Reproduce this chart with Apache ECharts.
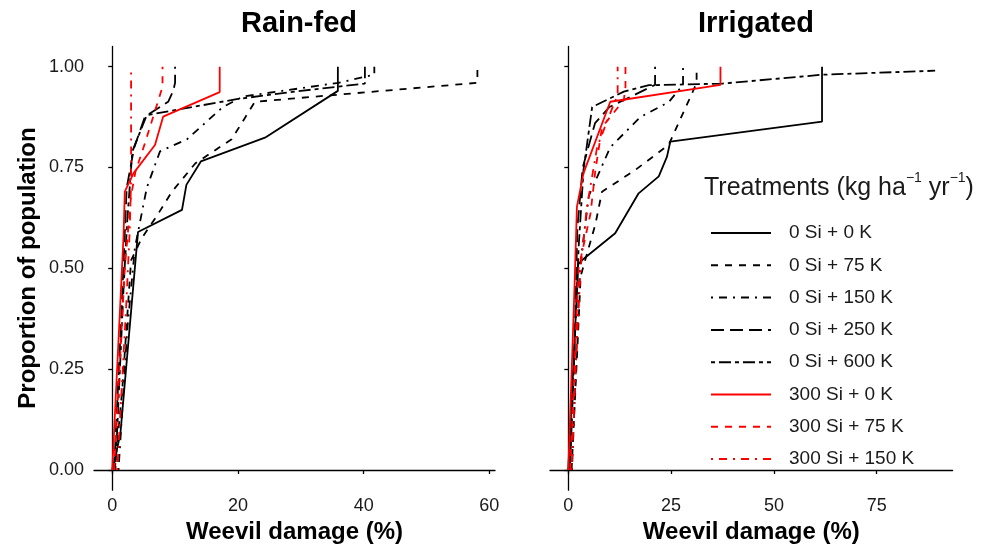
<!DOCTYPE html>
<html>
<head>
<meta charset="utf-8">
<script src="https://cdn.jsdelivr.net/npm/echarts@6/dist/echarts.min.js"></script>
<style>
  html, body { margin: 0; padding: 0; background: #fff; }
  #chart { width: 990px; height: 550px; }
</style>
</head>
<body>
<div id="chart"></div>
<script>
// treatment names (legend order)
const treatments = ['0 Si + 0 K', '0 Si + 75 K', '0 Si + 150 K', '0 Si + 250 K',
                    '0 Si + 600 K', '300 Si + 0 K', '300 Si + 75 K', '300 Si + 150 K'];

// Rain-fed: [weevil damage %, cumulative proportion]
const rain0K   = [[0,0],[1.3,0.09],[4.1,0.59],[11.1,0.645],[11.8,0.707],[14.1,0.765],[24.3,0.824],[35.9,0.94],[35.9,1]];
const rain75K  = [[0.4,0],[1.6,0.2],[3.0,0.52],[4.7,0.575],[7.1,0.63],[9.5,0.69],[13.2,0.76],[19,0.82],[22.7,0.913],[58.1,0.96],[58.1,1]];
const rain150K = [[1,0],[2.4,0.35],[3.6,0.55],[5.5,0.7],[7.6,0.79],[11.9,0.82],[17.6,0.9],[20.8,0.926],[36,0.96],[41.7,0.98],[41.7,1]];
const rain250K = [[0.3,0],[1.5,0.4],[2.3,0.7],[3.5,0.8],[5.2,0.876],[8.9,0.913],[9.7,0.94],[10,0.96],[10,1]];
const rain600K = [[0.5,0],[1.8,0.45],[2.4,0.62],[3.2,0.79],[5.5,0.88],[20,0.92],[30,0.94],[40.2,0.958],[40.2,1]];
const rainSi0K   = [[0,0],[1.8,0.58],[2.0,0.69],[3.4,0.736],[6.8,0.806],[8.1,0.876],[17.1,0.937],[17.1,1]];
const rainSi75K  = [[0.3,0],[2.0,0.5],[3.0,0.68],[3.7,0.74],[5.2,0.81],[6.8,0.89],[8.0,0.95],[8.0,1]];
const rainSi150K = [[0.8,0],[2.2,0.4],[2.8,0.6],[3.0,0.72],[3.0,1]];

// Irrigated
const irr0K   = [[0,0],[1.2,0.25],[2.4,0.51],[3.3,0.52],[11.4,0.587],[17.1,0.686],[22,0.728],[24,0.777],[24.8,0.814],[61.7,0.864],[61.7,1]];
const irr75K  = [[0.8,0],[2.2,0.3],[3.0,0.48],[4.1,0.52],[6.6,0.61],[8.2,0.69],[16.3,0.744],[24.4,0.806],[30.1,0.934],[31.2,0.96],[31.2,1]];
const irr150K = [[0.9,0],[2.0,0.3],[2.8,0.5],[5,0.68],[10.2,0.8],[17.5,0.875],[24.4,0.912],[27.9,0.955],[27.9,1]];
const irr250K = [[0.4,0],[1.5,0.3],[2.2,0.6],[3.5,0.75],[6.5,0.86],[10,0.9],[21.1,0.955],[21.1,1]];
const irr600K = [[0.3,0],[1.5,0.3],[2.5,0.55],[3.7,0.744],[5.8,0.9],[13.5,0.938],[19.6,0.954],[37.4,0.958],[61.7,0.98],[89.2,0.99]];
const irrSi0K   = [[0,0],[1.5,0.45],[2.1,0.653],[3.7,0.736],[10.2,0.913],[37,0.955],[37,1]];
const irrSi75K  = [[0.5,0],[2.5,0.5],[5.4,0.636],[6.6,0.744],[8.2,0.85],[13.5,0.917],[13.9,0.95],[13.9,1]];
const irrSi150K = [[0.8,0],[2,0.3],[3,0.5],[4.5,0.65],[7,0.8],[10,0.88],[12,0.93],[12,1]];

const xTicksRain = [0, 20, 40, 60];
const xTicksIrr = [0, 25, 50, 75];
const yTicks = [0, 0.25, 0.5, 0.75, 1];

const colors = ['#000', '#000', '#000', '#000', '#000', '#ff0000', '#ff0000', '#ff0000'];
const dashes = ['solid', [7, 7], [2, 6, 8, 6], [13, 6], [4, 4, 12, 4], 'solid', [7, 7], [2, 6, 8, 6]];

const rainData = [rain0K, rain75K, rain150K, rain250K, rain600K, rainSi0K, rainSi75K, rainSi150K];
const irrData = [irr0K, irr75K, irr150K, irr250K, irr600K, irrSi0K, irrSi75K, irrSi150K];

const chart = echarts.init(document.getElementById('chart'));

const FONT = 'Liberation Sans, Arial, sans-serif';
const axisText = { color: '#1a1a1a', fontSize: 18, fontFamily: FONT };
const axisLine = { show: true, lineStyle: { color: '#000', width: 1.3 } };
const axisTick = { show: true, length: 4, lineStyle: { color: '#000', width: 1.3 } };
const nameStyle = { color: '#000', fontSize: 24, fontWeight: 'bold', fontFamily: FONT };

function xAxisFor(idx, min, max, ticks) {
  return {
    type: 'value', gridIndex: idx, min: min, max: max,
    name: 'Weevil damage (%)', nameLocation: 'middle', nameGap: 28, nameTextStyle: nameStyle,
    axisLine: axisLine,
    axisTick: Object.assign({ customValues: ticks }, axisTick),
    axisLabel: Object.assign({ customValues: ticks, margin: 7 }, axisText),
    splitLine: { show: false }
  };
}
function yAxisFor(idx, showLabel) {
  return {
    type: 'value', gridIndex: idx, min: -0.05, max: 1.05,
    axisLine: axisLine,
    axisTick: Object.assign({ customValues: yTicks }, axisTick),
    axisLabel: Object.assign({ show: showLabel, customValues: yTicks, margin: 10,
      formatter: v => v.toFixed(2) }, axisText),
    splitLine: { show: false }
  };
}

const series = [];
[rainData, irrData].forEach((set, p) => {
  set.forEach((d, i) => {
    series.push({
      name: treatments[i], type: 'line', xAxisIndex: p, yAxisIndex: p,
      data: d, symbol: 'none', showSymbol: false, animation: false,
      lineStyle: { color: colors[i], width: 1.8, type: dashes[i] },
      itemStyle: { color: colors[i] }
    });
  });
});

chart.setOption({
  backgroundColor: '#fff',
  animation: false,
  title: [
    { text: 'Rain-fed', left: 294, top: 4, textAlign: 'center',
      textStyle: { fontSize: 29, fontWeight: 'bold', color: '#000', fontFamily: FONT } },
    { text: 'Irrigated', left: 751, top: 4, textAlign: 'center',
      textStyle: { fontSize: 29, fontWeight: 'bold', color: '#000', fontFamily: FONT } }
  ],
  grid: [
    { left: 94, top: 46.5, width: 401, height: 443.7 },
    { left: 550, top: 46.5, width: 402.6, height: 443.7 }
  ],
  xAxis: [xAxisFor(0, -2.9, 60.9, xTicksRain), xAxisFor(1, -4.45, 93.45, xTicksIrr)],
  yAxis: [yAxisFor(0, true), yAxisFor(1, false)],
  legend: {
    orient: 'vertical', left: 705, top: 218.5,
    itemWidth: 60, itemHeight: 19, itemGap: 13.3,
    data: treatments,
    itemStyle: { opacity: 0, color: 'rgba(0,0,0,0)', borderWidth: 0 },
    textStyle: { fontSize: 19, color: '#1a1a1a', fontFamily: FONT, padding: [0, 0, 0, 13] }
  },
  graphic: [
    { type: 'text', x: 28, y: 268, rotation: Math.PI / 2,
      style: { text: 'Proportion of population', fill: '#000',
               font: 'bold 24px Liberation Sans, Arial, sans-serif',
               textAlign: 'center', textVerticalAlign: 'middle' } },
    { type: 'text', x: 704, y: 171,
      style: {
        text: '{a|Treatments (kg ha}{s|−1}{a| yr}{s|−1}{a|)}',
        rich: {
          a: { fontSize: 25, fill: '#1a1a1a', fontFamily: FONT, lineHeight: 30, verticalAlign: 'bottom' },
          s: { fontSize: 14, fill: '#1a1a1a', fontFamily: FONT, lineHeight: 30, verticalAlign: 'top' }
        }
      } }
  ],
  series: series
});
</script>
</body>
</html>
